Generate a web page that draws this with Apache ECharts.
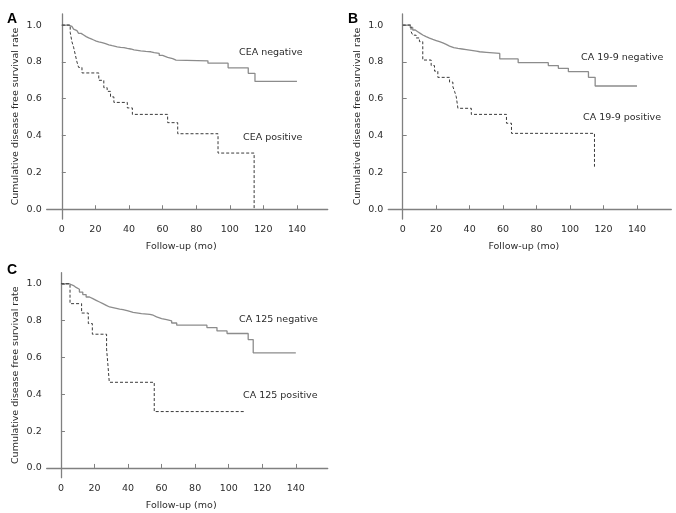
<!DOCTYPE html>
<html lang="en">
  <head>
    <meta charset="UTF-8" />
    <title>Disease free survival by tumour marker</title>
    <script src="https://cdn.jsdelivr.net/npm/echarts@6.0.0/dist/echarts.min.js"></script>
    <style>
      html, body { margin: 0; padding: 0; background: #fff; }
      #chart { width: 676px; height: 513px; }
    </style>
  </head>
  <body>
    <div id="chart"></div>

    <script>
      // tick values shared by the three panels
      var xTicks = [0, 20, 40, 60, 80, 100, 120, 140]
      var yTicks = [0, 0.2, 0.4, 0.6, 0.8, 1.0]

      // Kaplan-Meier curves: [month, survival after the event]
      var ceaNeg = [[0, 1], [4, 1], [5, 0.993], [6, 0.985], [7, 0.978], [8, 0.97], [9, 0.962], [10, 0.955],
        [11.5, 0.946], [13, 0.937], [14.5, 0.93], [16, 0.925], [17.5, 0.919], [19, 0.913], [20.5, 0.909],
        [22, 0.905], [24, 0.899], [26, 0.893], [28, 0.888], [30, 0.882], [33, 0.879], [35, 0.877], [37, 0.873],
        [39, 0.87], [41, 0.865], [43, 0.86], [47, 0.857], [50, 0.855], [53, 0.85], [55, 0.846], [58, 0.835],
        [60, 0.825], [63, 0.818], [66, 0.81], [68, 0.806], [87, 0.793], [99, 0.768], [111, 0.738], [115, 0.694], [140, 0.694]]
      var ceaPos = [[0, 1], [5, 0.96], [6, 0.91], [7, 0.88], [8, 0.84], [9, 0.8], [10, 0.77], [12, 0.74],
        [22, 0.7], [25, 0.66], [27, 0.64], [29, 0.61], [31, 0.58], [39, 0.55], [42, 0.515], [63, 0.47],
        [69, 0.41], [93, 0.305], [114.5, 0.005]]

      var ca199Neg = [[0, 1], [3, 1], [4.5, 0.987], [6, 0.973], [7.5, 0.964], [9, 0.955], [10.5, 0.946], [12, 0.937],
        [14, 0.929], [16, 0.922], [18, 0.916], [20, 0.91], [22, 0.903], [24, 0.895], [26, 0.886], [28, 0.877],
        [30.5, 0.873], [33, 0.87], [35.5, 0.867], [38, 0.864], [40, 0.861], [42, 0.858], [44, 0.855], [46, 0.852],
        [50, 0.849], [54, 0.846], [58, 0.816], [69, 0.796], [87, 0.78], [93, 0.765], [99, 0.747], [111, 0.716],
        [115, 0.669], [140, 0.669]]
      var ca199Pos = [[0, 1], [5, 0.965], [6, 0.945], [8, 0.93], [10, 0.91], [12, 0.81], [17, 0.78], [19, 0.75],
        [21, 0.716], [28, 0.69], [30, 0.665], [31, 0.64], [32, 0.611], [33, 0.548], [41, 0.515], [62, 0.467],
        [65, 0.412], [114.6, 0.231]]

      var ca125Neg = [[0, 1], [5, 1], [6, 0.99], [7.5, 0.98], [9, 0.97], [11, 0.955], [13, 0.941], [15, 0.928],
        [17, 0.919], [19, 0.91], [21, 0.901], [23, 0.892], [25, 0.883], [27, 0.874], [29, 0.87], [31, 0.866],
        [33, 0.862], [35, 0.859], [37, 0.853], [40, 0.845], [43, 0.838], [48, 0.834], [53, 0.829], [55, 0.82],
        [57, 0.811], [60, 0.805], [63, 0.798], [66, 0.787], [69, 0.775], [87, 0.762], [93, 0.744], [99, 0.73],
        [111.6, 0.697], [114.6, 0.625], [140, 0.625]]
      var ca125Pos = [[0, 1], [5.4, 0.892], [12.3, 0.841], [16.3, 0.784], [18.7, 0.726], [27.2, 0.645],
        [28, 0.559], [28.8, 0.465], [55.6, 0.306], [109.3, 0.306]]

      var chart = echarts.init(document.getElementById("chart"))
      var font = "DejaVu Sans"
      var textColor = "#2b2b2b"
      var axisColor = "#808080"

      function xAxisFor(grid, min, max) {
        return {
          type: "value", gridIndex: grid, min: min, max: max,
          name: "Follow-up (mo)", nameLocation: "middle", nameGap: 23,
          nameTextStyle: { color: textColor, fontFamily: font, fontSize: 9.5, padding: [0, 12, 0, 0] },
          axisLine: { lineStyle: { color: axisColor, width: 1.3 } },
          axisTick: { inside: true, length: 4, customValues: xTicks, lineStyle: { color: axisColor } },
          axisLabel: { customValues: xTicks, margin: 6, color: textColor, fontFamily: font, fontSize: 9.5 },
          splitLine: { show: false }
        }
      }

      function yAxisFor(grid) {
        return {
          type: "value", gridIndex: grid, min: -0.053, max: 1.06,
          name: "Cumulative disease free survival rate", nameLocation: "middle", nameGap: 26,
          nameTextStyle: { color: textColor, fontFamily: font, fontSize: 9.5 },
          axisLine: { show: true, lineStyle: { color: axisColor, width: 1.3 } },
          axisTick: { show: true, inside: true, length: 4, customValues: yTicks, lineStyle: { color: axisColor } },
          axisLabel: {
            customValues: yTicks, margin: 5, color: textColor, fontFamily: font, fontSize: 9.5,
            formatter: function (v) { return v.toFixed(1) }
          },
          splitLine: { show: false }
        }
      }

      function curve(data, idx, dashed) {
        return {
          type: "line", step: "end", data: data, xAxisIndex: idx, yAxisIndex: idx,
          symbol: "none", silent: true,
          lineStyle: dashed
            ? { color: "#3a3a3a", width: 1, type: [3, 2] }
            : { color: "#8c8c8c", width: 1.3 }
        }
      }

      function label(text, left, top, bold) {
        return {
          type: "text", left: left, top: top,
          style: {
            text: text, fill: bold ? "#000" : textColor,
            font: bold ? "bold 14px 'Liberation Sans'" : "9.5px 'DejaVu Sans'"
          }
        }
      }

      var option = {
        animation: false,
        grid: [
          { left: 46.7, top: 14, width: 281, height: 205 },
          { left: 388.3, top: 14, width: 283, height: 205 },
          { left: 46.7, top: 272.7, width: 281, height: 205 }
        ],
        xAxis: [xAxisFor(0, -9, 158.3), xAxisFor(1, -8.6, 160.5), xAxisFor(2, -8.5, 159)],
        yAxis: [yAxisFor(0), yAxisFor(1), yAxisFor(2)],
        series: [
          curve(ceaNeg, 0, false), curve(ceaPos, 0, true),
          curve(ca199Neg, 1, false), curve(ca199Pos, 1, true),
          curve(ca125Neg, 2, false), curve(ca125Pos, 2, true)
        ],
        graphic: [
          label("A", 7, 12, true), label("B", 348, 12, true), label("C", 7, 263, true),
          label("CEA negative", 239, 48), label("CEA positive", 243, 133),
          label("CA 19-9 negative", 581, 53), label("CA 19-9 positive", 583, 113),
          label("CA 125 negative", 239, 315), label("CA 125 positive", 243, 391)
        ]
      }
      chart.setOption(option)
    </script>
  </body>
</html>
